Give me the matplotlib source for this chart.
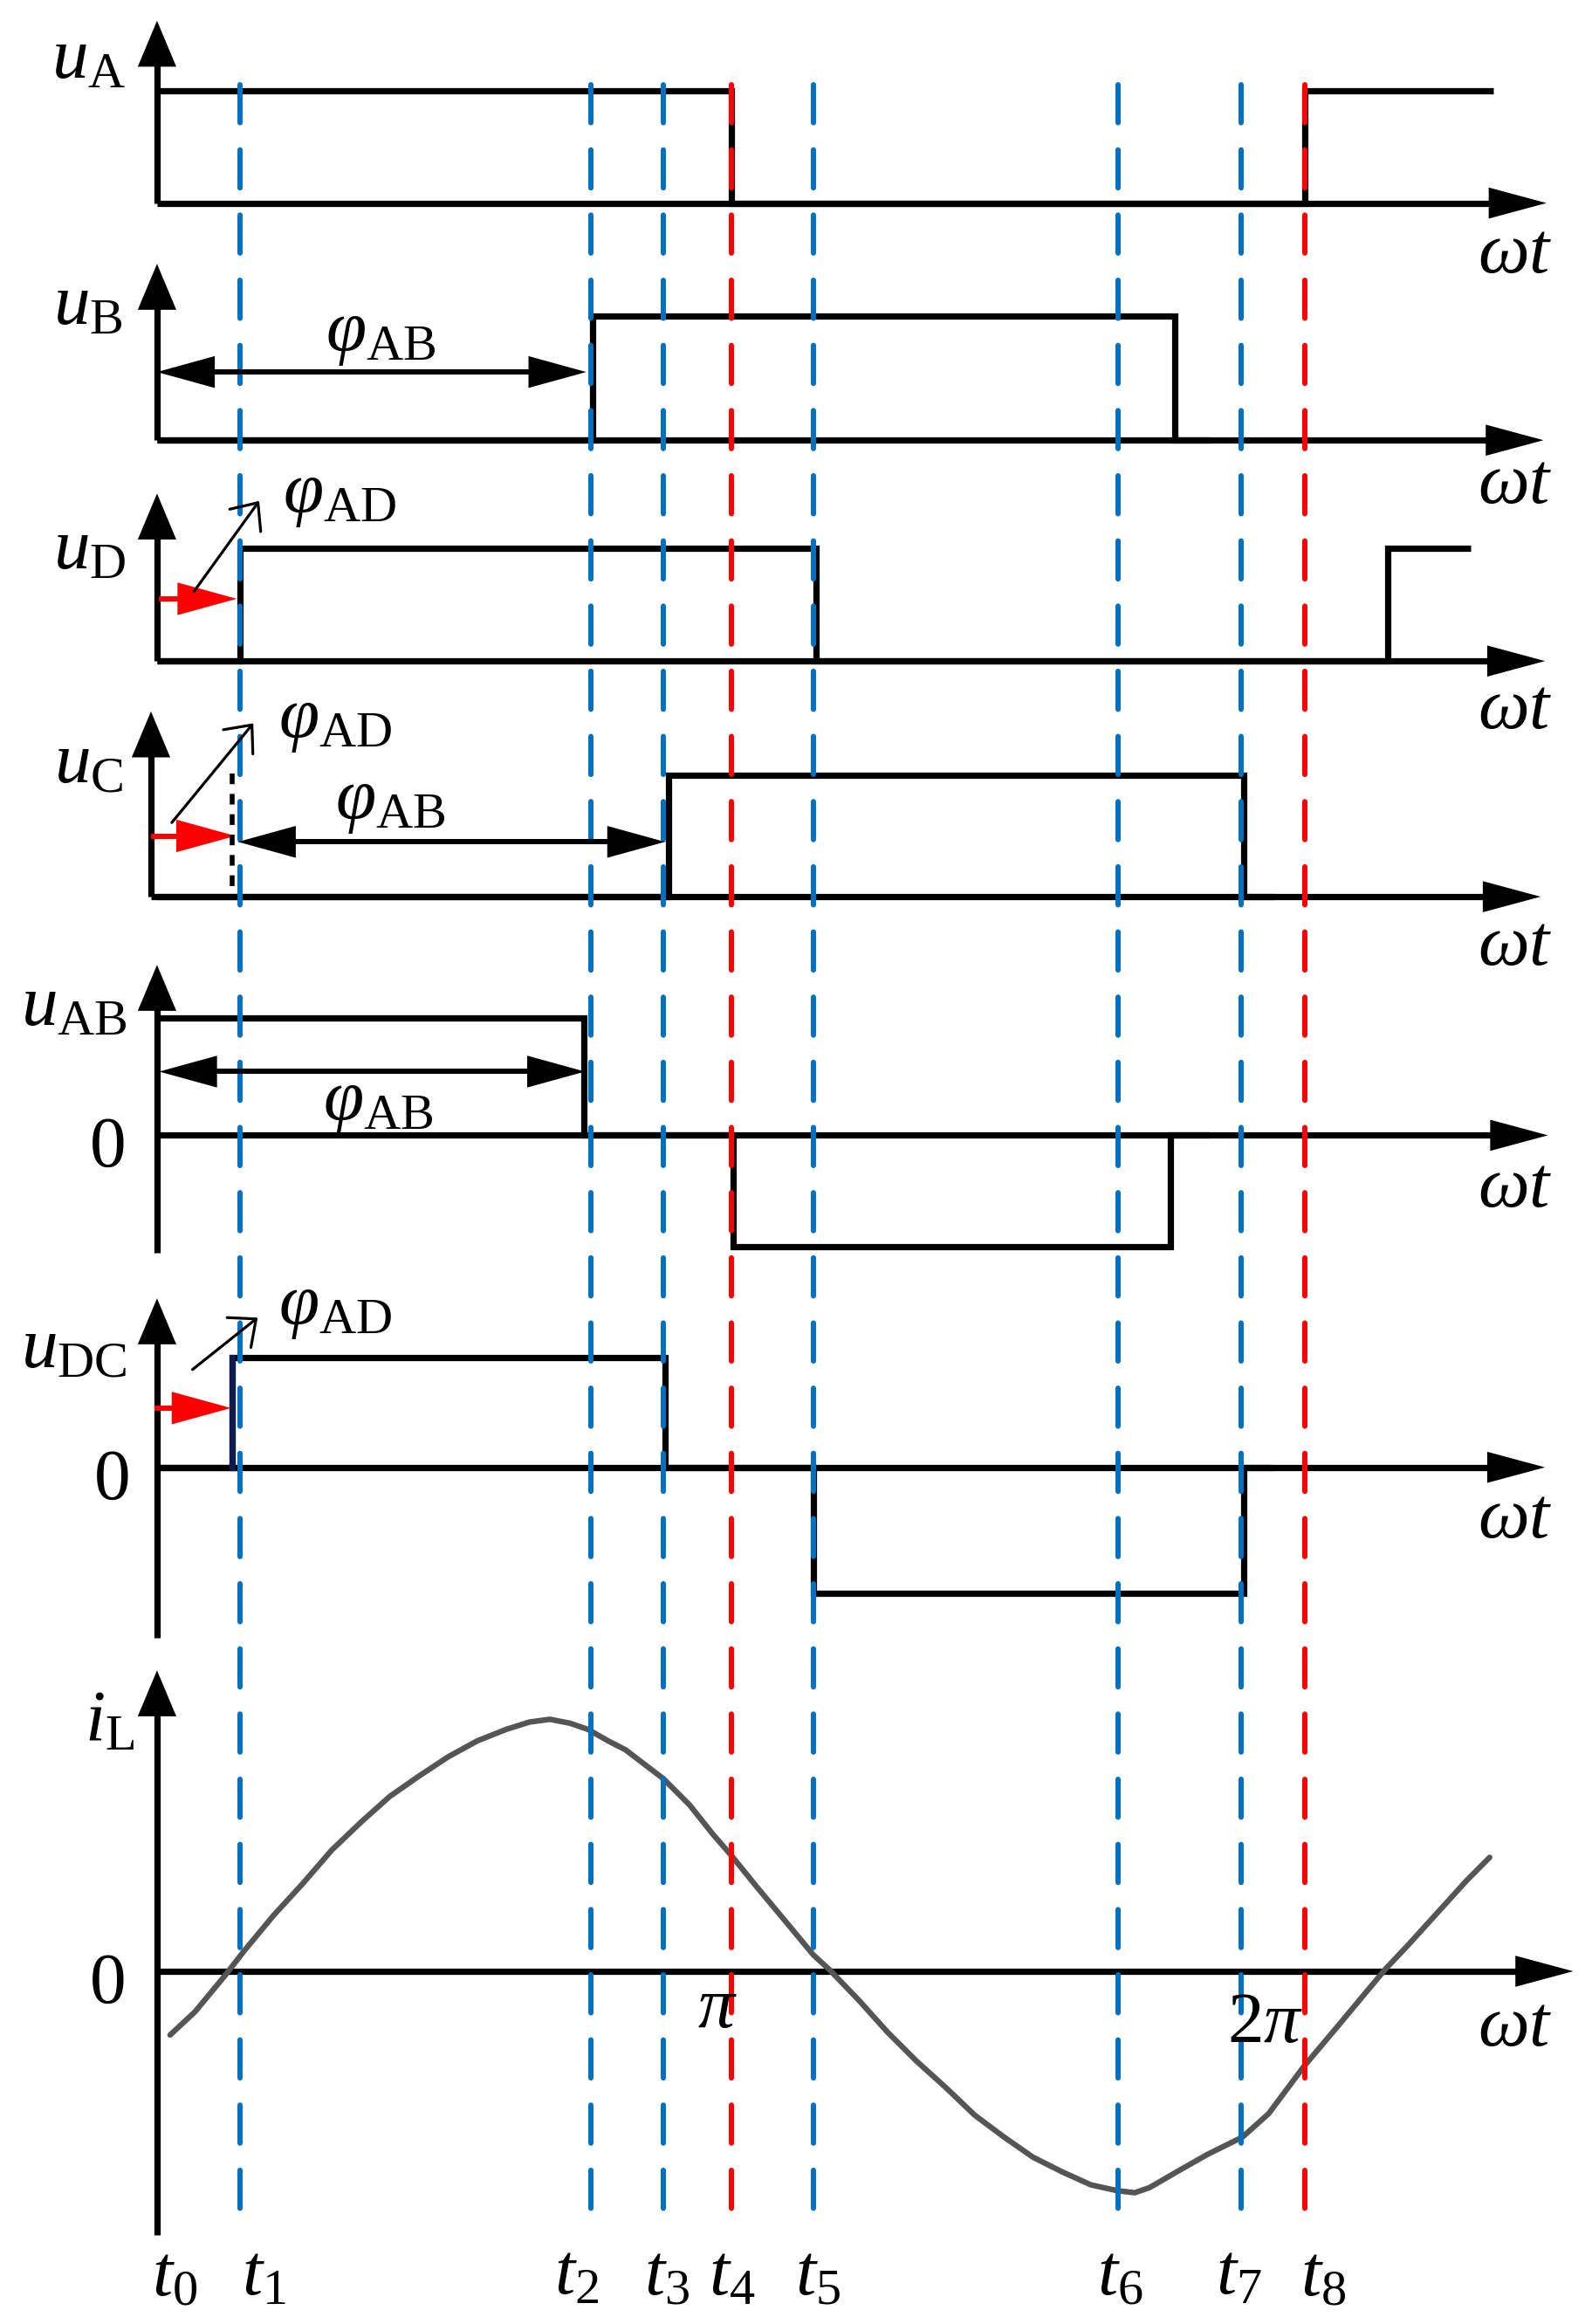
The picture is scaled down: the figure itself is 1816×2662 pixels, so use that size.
import matplotlib.pyplot as plt
from matplotlib.patches import Polygon

plt.rcParams['font.family'] = ['Liberation Serif', 'DejaVu Serif']
plt.rcParams['mathtext.fontset'] = 'custom'
plt.rcParams['mathtext.rm'] = 'Liberation Serif'
plt.rcParams['mathtext.it'] = 'Liberation Serif:italic'
plt.rcParams['mathtext.bf'] = 'Liberation Serif:bold'

# switching instants t0..t8 in degrees of wt (t4 = pi, t8 = 2pi)
t_marks = [0, 26.0, 136.1, 158.9, 180.0, 205.8, 301.5, 340.0, 360.0]
t_labels = [r'$t_{%d}$' % i for i in range(9)]
t_label_pos = [118, 178, 389, 450, 494, 552, 756, 836, 893]   # label centres (px)
t_red = [4, 8]

# square waves: switching angles and the level held between them
uA_edges = [0, 180.0, 360.0, 419.0]
uA_levels = [1, 0, 1]
uB_edges = [0, 136.6, 319.1, 330.0]
uB_levels = [0, 1, 0]
uD_edges = [0, 26.0, 206.7, 386.0, 412.0]
uD_levels = [0, 1, 0, 1]
uC_edges = [0, 160.3, 340.9, 350.0]
uC_levels = [0, 1, 0]
uAB_edges = [0, 133.8, 180.7, 317.7, 330.0]
uAB_levels = [1, 0, -1, 0]
uDC_edges = [0, 23.7, 159.3, 205.8, 340.9, 350.0]
uDC_levels = [0, 1, 0, -1, 0]

# inductor current (normalised to its peak)
iL_deg = [4.1, 11.9, 21.0, 27.4, 36.5, 45.7, 54.8, 63.9, 73.0, 82.2, 91.3,
          100.4, 109.5, 116.8, 123.2, 129.6, 135.1, 141.5, 146.9, 158.8, 167.0,
          174.3, 180.2, 188.0, 197.1, 205.8, 210.8, 220.0, 229.1, 238.2, 247.3,
          256.4, 265.6, 274.7, 283.8, 292.9, 301.2, 306.6, 311.2, 319.8, 329.4,
          340.4, 348.6, 359.5, 369.6, 378.7, 385.1, 392.4, 401.5, 410.6, 417.9]
iL_val = [-0.253, -0.161, -0.022, 0.082, 0.221, 0.348, 0.481, 0.591, 0.694, 0.775, 0.851,
          0.914, 0.960, 0.989, 1.0, 0.984, 0.960, 0.914, 0.879, 0.764, 0.660,
          0.544, 0.458, 0.336, 0.198, 0.065, 0.007, -0.114, -0.242, -0.357, -0.461,
          -0.571, -0.658, -0.738, -0.796, -0.848, -0.871, -0.879, -0.859, -0.796, -0.727,
          -0.658, -0.565, -0.380, -0.228, -0.090, 0.007, 0.105, 0.232, 0.359, 0.452]

# phase shift arrows (degrees)
phiAB_uB = (0, 134.6)
phiAB_uC = (25.4, 159.3)
phiAB_uAB = (0.7, 134.2)
phiAD_uD = (0.5, 25.0)
phiAD_uC = (-1.9, 24.6)
phiAD_uDC = (-0.9, 23.2)
uC_ref = 23.7

# page layout in pixels of a 1070 x 1568 sheet
K = 180 / 387.5
X0 = 106


def X(px):
    return (px - X0) * K


FS = 60
LW = 5.2
BLUE = '#0070C0'
RED = '#FF0000'

fig = plt.figure(figsize=(18.16, 26.62), dpi=100)
ax = fig.add_axes([0, 0, 1, 1])
ax.set_xlim(X(0), X(1070))
ax.set_ylim(1568, 0)
ax.axis('off')


def tri(tx, ty, ux, uy, length, width, color='k', z=4):
    # filled arrow head, tip at (tx deg, ty px), direction (ux, uy) in px space
    px = tx / K
    bx, by = px - ux * length, ty - uy * length
    pts = [(px, ty), (bx - uy * width / 2, by + ux * width / 2),
           (bx + uy * width / 2, by - ux * width / 2)]
    ax.add_patch(Polygon([(a * K, b) for a, b in pts], closed=True,
                         facecolor=color, edgecolor='none', zorder=z))


def double_arrow(x0, x1, y):
    ax.plot([x0 + 30 * K, x1 - 30 * K], [y, y], color='k', lw=4.3,
            solid_capstyle='butt', zorder=4)
    tri(x0, y, -1, 0, 39, 21.5)
    tri(x1, y, 1, 0, 39, 21.5)


def red_arrow(x0, x1, y):
    ax.plot([x0, x1 - 30 * K], [y, y], color=RED, lw=4.3,
            solid_capstyle='butt', zorder=4)
    tri(x1, y, 1, 0, 40, 22, color=RED)


def thin_arrow(p0, p1):
    ax.annotate('', xy=(X(p1[0]), p1[1]), xytext=(X(p0[0]), p0[1]),
                arrowprops=dict(arrowstyle='->, head_length=0.4, head_width=0.35',
                                lw=2.3, color='k', mutation_scale=45,
                                shrinkA=0, shrinkB=0), zorder=4)


panels = [
    dict(name=r'$u_{\mathrm{A}}$', zero=137, hi=76, lo=0, top=14, bottom=137,
         axx=0, xend=1044, lab=(85, 52), wt=184, zlab=None),
    dict(name=r'$u_{\mathrm{B}}$', zero=297, hi=84, lo=0, top=178, bottom=297,
         axx=0, xend=1042, lab=(83, 219), wt=339, zlab=None),
    dict(name=r'$u_{\mathrm{D}}$', zero=446, hi=76, lo=0, top=333, bottom=446,
         axx=0, xend=1043, lab=(85, 384), wt=491, zlab=None),
    dict(name=r'$u_{\mathrm{C}}$', zero=605, hi=82, lo=0, top=480, bottom=605,
         axx=-1.9, xend=1040, lab=(83, 527), wt=651, zlab=None),
    dict(name=r'$u_{\mathrm{AB}}$', zero=766, hi=79, lo=75, top=651, bottom=845,
         axx=0, xend=1045, lab=(86, 691), wt=814, zlab=(85, 787)),
    dict(name=r'$u_{\mathrm{DC}}$', zero=990, hi=74, lo=85, top=876, bottom=1105,
         axx=0, xend=1043, lab=(86, 922), wt=1037, zlab=(88, 1011)),
    dict(name=r'$i_{\mathrm{L}}$', zero=1330, hi=170, lo=170, top=1127, bottom=1508,
         axx=0, xend=1062, lab=(91, 1174), wt=1380, zlab=(85, 1351)),
]
waves = [(uA_edges, uA_levels), (uB_edges, uB_levels), (uD_edges, uD_levels),
         (uC_edges, uC_levels), (uAB_edges, uAB_levels), (uDC_edges, uDC_levels)]

for p in panels:
    xa = p['axx']
    # axes with arrow heads
    ax.plot([xa, xa], [p['bottom'], p['top'] + 20], color='k', lw=LW,
            solid_capstyle='butt', zorder=2)
    tri(xa, p['top'], 0, -1, 31, 26)
    ax.plot([xa, X(p['xend']) - 25 * K], [p['zero'], p['zero']], color='k',
            lw=LW, solid_capstyle='butt', zorder=2)
    tri(X(p['xend']), p['zero'], 1, 0, 39, 21)
    ax.text(X(p['lab'][0]), p['lab'][1], p['name'], fontsize=FS,
            ha='right', va='baseline')
    ax.text(X(1048), p['wt'], r'$\omega t$', fontsize=FS, ha='right', va='baseline')
    if p['zlab']:
        ax.text(X(p['zlab'][0]), p['zlab'][1], '0', fontsize=FS,
                ha='right', va='baseline')

for p, (edges, levels) in zip(panels, waves):
    xs, ys = [], []
    for i, lv in enumerate(levels):
        y = p['zero'] - lv * (p['hi'] if lv > 0 else p['lo'])
        xs += [edges[i], edges[i + 1]]
        ys += [y, y]
    ax.plot(xs, ys, color='k', lw=LW, solid_joinstyle='miter',
            solid_capstyle='butt', zorder=2)

# dark rising edge of uDC at t1
pDC = panels[5]
ax.plot([uDC_edges[1]] * 2, [pDC['zero'], pDC['zero'] - pDC['hi']],
        color='#0d1b4f', lw=LW, zorder=2)

# inductor current
pL = panels[6]
ax.plot(iL_deg, [pL['zero'] - v * pL['hi'] for v in iL_val], color='#555555',
        lw=4.6, solid_capstyle='round', solid_joinstyle='round', zorder=2)

# switching instant markers
for i, t in enumerate(t_marks):
    if i > 0:
        ax.plot([t, t], [57, 1494], color=RED if i in t_red else BLUE, lw=4.3,
                dashes=(7.3, 5.2), dash_capstyle='round', zorder=3)
    ax.text(X(t_label_pos[i]), 1548, t_labels[i], fontsize=FS,
            ha='center', va='baseline')

ax.text(X(484), 1368, r'$\pi$', fontsize=FS, ha='center', va='baseline')
ax.text(X(854), 1378, r'$2\pi$', fontsize=FS, ha='center', va='baseline')

# phase shift annotations
double_arrow(*phiAB_uB, 251)
double_arrow(*phiAB_uC, 568)
double_arrow(*phiAB_uAB, 723)
red_arrow(*phiAD_uD, 404)
red_arrow(*phiAD_uC, 564)
red_arrow(*phiAD_uDC, 950)
thin_arrow((131, 399), (175, 338))
thin_arrow((116, 555), (171, 488))
thin_arrow((130, 924), (174, 889))
ax.plot([uC_ref, uC_ref], [522, 601], color='k', lw=4, dashes=(2.2, 2.0),
        zorder=4)

phi_texts = [(220, 236, r'$\varphi_{\mathrm{AB}}$'), (191, 345, r'$\varphi_{\mathrm{AD}}$'),
             (188, 497, r'$\varphi_{\mathrm{AD}}$'), (226, 552, r'$\varphi_{\mathrm{AB}}$'),
             (218, 755, r'$\varphi_{\mathrm{AB}}$'), (188, 893, r'$\varphi_{\mathrm{AD}}$')]
for x, y, s in phi_texts:
    ax.text(X(x), y, s, fontsize=FS, ha='left', va='baseline', zorder=5)

fig.savefig('out.png', dpi=100)
